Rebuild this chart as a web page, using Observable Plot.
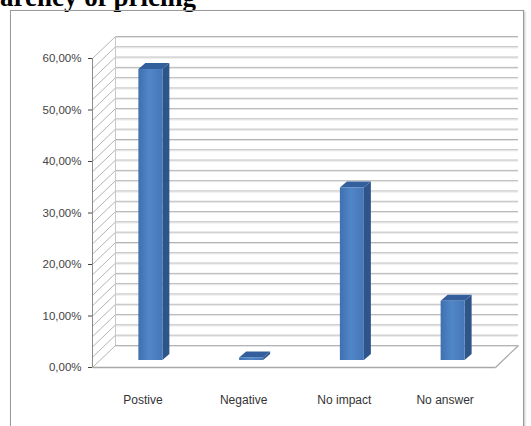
<!DOCTYPE html>
<html>
<head>
<meta charset="utf-8">
<script src="https://cdn.jsdelivr.net/npm/d3@7"></script>
<script src="https://cdn.jsdelivr.net/npm/@observablehq/plot@0.6"></script>
<style>
  html, body { margin: 0; padding: 0; background: #fff; }
  #wrap { position: relative; width: 531px; height: 426px; overflow: hidden; }
  #title { position: absolute; left: -82px; top: -18px; font: bold 27px "Liberation Serif", "Times New Roman", serif; color: #000; white-space: nowrap; line-height: 30px; }
  #frame { position: absolute; left: 10px; top: 10px; width: 512px; height: 440px; border: 1px solid #9a9a9a; box-shadow: 1px 1px 2px rgba(0,0,0,0.25); }
  #chart { position: absolute; left: 0; top: 0; }
</style>
</head>
<body>
<div id="wrap">
  <div id="title">Transparency of pricing</div>
  <div id="frame"></div>
  <div id="chart"></div>
</div>
<script>
const categories = ["Postive", "Negative", "No impact", "No answer"];
const values = [56.5, 0.5, 33.5, 11.5];
const yTicks = [0, 10, 20, 30, 40, 50, 60];
const yTickLabels = ["0,00%", "10,00%", "20,00%", "30,00%", "40,00%", "50,00%", "60,00%"];
const gridValues = [0, 2, 4, 6, 8, 10, 12, 14, 16, 18, 20, 22, 24, 26, 28, 30, 32, 34, 36, 38, 40, 42, 44, 46, 48, 50, 52, 54, 56, 58, 60];

const W = 531, H = 426;
const mL = 92, mR = 36, mT = 58, mB = 59;
const pxX = (W - mL - mR) / categories.length;
const pxY = (H - mT - mB) / 60;
const ux = p => p / pxX;     // pixels -> x data units
const uy = p => p / pxY;     // pixels (upward) -> y data units

const wallDX = 23, wallDY = 22;     // depth of the 3D box
const barDX = 8, barDY = 7;         // bar front face placement in depth
const barDepthX = 7, barDepthY = 6; // depth of each bar
const halfW = ux(12);

const bars = categories.map((c, i) => ({i, c, v: values[i], xl: i + 0.5 - halfW, xr: i + 0.5 + halfW}));
const sideData = bars.flatMap(b => [
  {i: b.i, x: b.xr, y1: 0, y2: b.v},
  {i: b.i, x: b.xr + ux(barDepthX), y1: uy(barDepthY), y2: b.v + uy(barDepthY)}
]);
const topData = bars.flatMap(b => [
  {i: b.i, y: b.v, x1: b.xl, x2: b.xr},
  {i: b.i, y: b.v + uy(barDepthY), x1: b.xl + ux(barDepthX), x2: b.xr + ux(barDepthX)}
]);
const labelMap = new Map(yTicks.map((t, k) => [t, yTickLabels[k]]));

const defs = () => {
  const d = d3.create("svg:defs");
  const g = d.append("linearGradient").attr("id", "barGrad").attr("x1", 0).attr("x2", 1).attr("y1", 0).attr("y2", 0);
  g.append("stop").attr("offset", "0%").attr("stop-color", "#3f70b0");
  g.append("stop").attr("offset", "45%").attr("stop-color", "#5086c8");
  g.append("stop").attr("offset", "100%").attr("stop-color", "#4677b8");
  return d.node();
};

const chart = Plot.plot({
  width: W, height: H,
  marginLeft: mL, marginRight: mR, marginTop: mT, marginBottom: mB,
  style: {fontFamily: "'Liberation Sans', Arial, sans-serif", fontSize: "11.5px", color: "#444", background: "transparent", overflow: "visible"},
  x: {domain: [0, categories.length], axis: null},
  y: {domain: [0, 60], ticks: yTicks, tickFormat: d => labelMap.get(d), tickSize: 4, tickPadding: 7, label: null},
  marks: [
    defs,
    // back wall gridlines
    Plot.ruleY(gridValues, {dx: wallDX, dy: -wallDY, stroke: "#b4b4b4", strokeWidth: 1}),
    Plot.ruleY(gridValues, {dx: wallDX, dy: -wallDY + 1, stroke: "#e4e4e4", strokeWidth: 1}),
    // side wall diagonals
    Plot.link(gridValues, {x1: 0, x2: ux(wallDX), y1: d => d, y2: d => d + uy(wallDY), stroke: "#b4b4b4", strokeWidth: 1}),
    // back wall left edge
    Plot.ruleX([0], {y1: 0, y2: 60, dx: wallDX, dy: -wallDY, stroke: "#c8c8c8"}),
    // floor front and right edges
    Plot.link([0], {x1: 0, x2: categories.length, y1: 0, y2: 0, stroke: "#a8a8a8", strokeWidth: 1.5}),
    Plot.link([0], {x1: categories.length, x2: categories.length + ux(wallDX), y1: 0, y2: uy(wallDY), stroke: "#a8a8a8", strokeWidth: 1.2}),
    // front axis line
    Plot.ruleX([0], {y1: 0, y2: 60, stroke: "#8c8c8c"}),
    // bars: side, top, front
    Plot.areaY(sideData, {x: "x", y1: "y1", y2: "y2", z: "i", dx: barDX, dy: -barDY, fill: "#2d5589", curve: "linear"}),
    Plot.areaX(topData, {y: "y", x1: "x1", x2: "x2", z: "i", dx: barDX, dy: -barDY, fill: "#33609c", curve: "linear"}),
    Plot.rect(bars, {x1: "xl", x2: "xr", y1: 0, y2: "v", dx: barDX, dy: -barDY, fill: "url(#barGrad)"}),
    // category labels
    Plot.text(bars, {x: d => d.i + 0.5, y: 0, text: "c", dy: 33, fill: "#333", fontSize: 12})
  ]
});
document.getElementById("chart").appendChild(chart);
</script>
</body>
</html>
